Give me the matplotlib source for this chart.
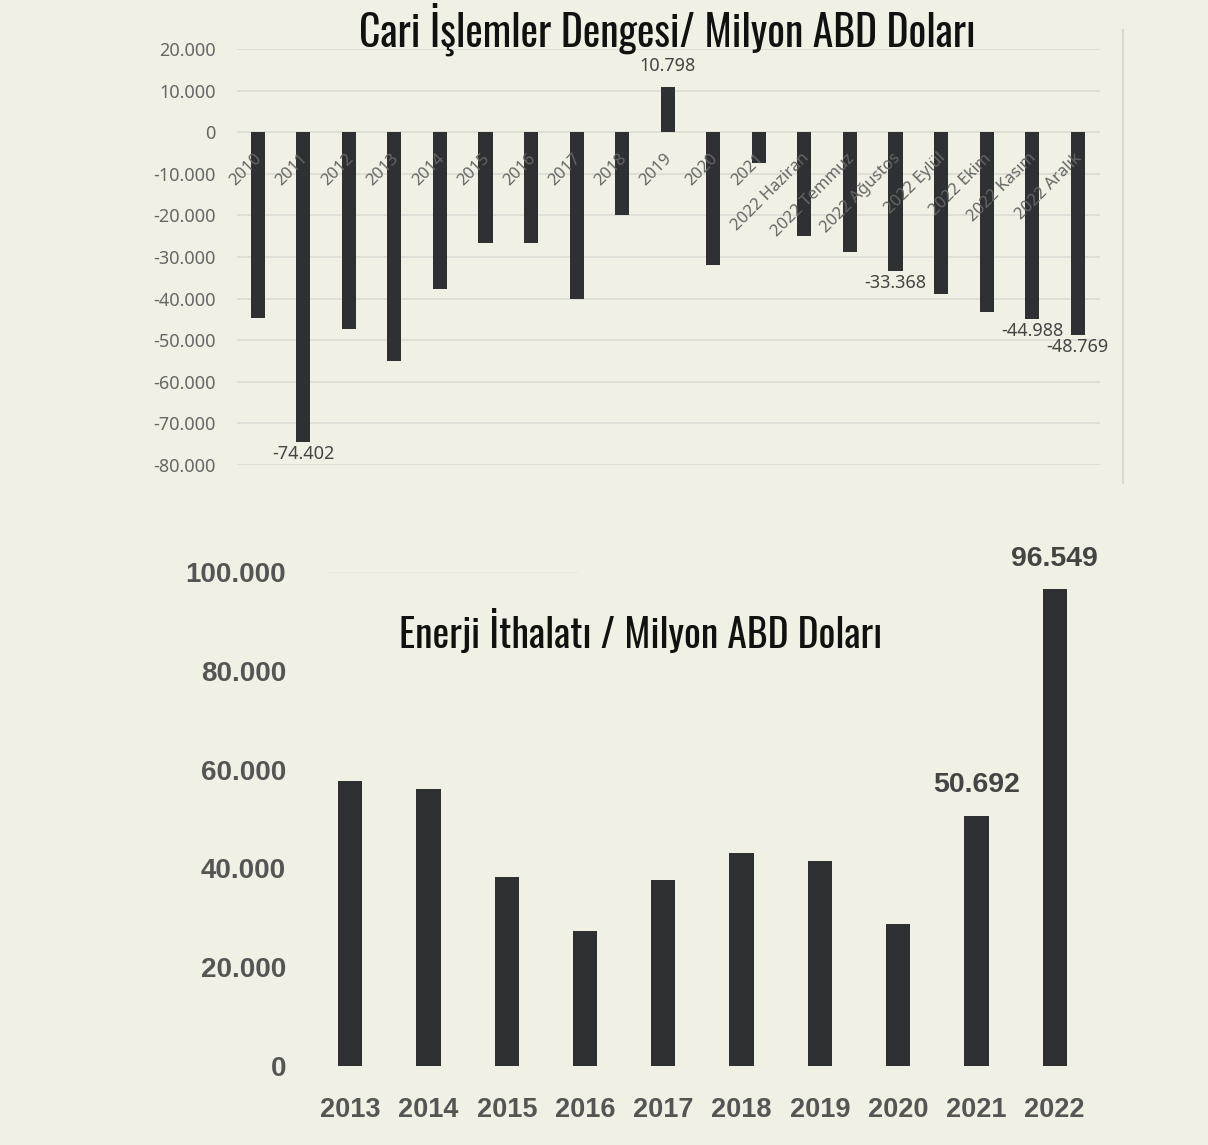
import matplotlib
matplotlib.use("Agg")
import matplotlib.pyplot as plt
from matplotlib.ticker import FuncFormatter

# ---- data ----
cari_labels = ["2010", "2011", "2012", "2013", "2014", "2015", "2016", "2017", "2018", "2019",
               "2020", "2021", "2022 Haziran", "2022 Temmuz", "2022 Ağustos", "2022 Eylül",
               "2022 Ekim", "2022 Kasım", "2022 Aralık"]
cari_values = [-44600, -74402, -47200, -55000, -37800, -26500, -26500, -40000, -20000, 10798,
               -31900, -7300, -25000, -28700, -33368, -38900, -43300, -44988, -48769]
cari_annotated = ["2011", "2019", "2022 Ağustos", "2022 Kasım", "2022 Aralık"]

enerji_years = ["2013", "2014", "2015", "2016", "2017", "2018", "2019", "2020", "2021", "2022"]
enerji_values = [57600, 56000, 38200, 27300, 37600, 43200, 41600, 28700, 50692, 96549]
enerji_annotated = ["2021", "2022"]

cari_yticks = [20000, 10000, 0, -10000, -20000, -30000, -40000, -50000, -60000, -70000, -80000]
enerji_yticks = [0, 20000, 40000, 60000, 80000, 100000]

BG = "#F0F0E4"
BAR = "#2E3033"
TITLE_FONT = ["Oswald", "Barlow Condensed", "DejaVu Sans"]
SMALL_FONT = ["Noto Sans", "DejaVu Sans"]
BOLD_FONT = ["Liberation Sans", "DejaVu Sans"]

def tr_fmt(v, pos=None):
    s = f"{abs(int(round(v))):,}".replace(",", ".")
    return ("-" if v < 0 else "") + s

fig = plt.figure(figsize=(12.08, 11.45), dpi=100, facecolor=BG)

# ---------------- top chart ----------------
ax1 = fig.add_axes([0.196, 0.594, 0.715, 0.363])
ax1.set_facecolor(BG)
x1 = list(range(len(cari_labels)))
ax1.bar(x1, cari_values, width=0.31, color=BAR, zorder=3)
ax1.set_ylim(-80000, 20000)
ax1.set_xlim(-0.46, len(cari_labels) - 0.5)
ax1.set_yticks(cari_yticks)
ax1.yaxis.set_major_formatter(FuncFormatter(tr_fmt))
ax1.tick_params(axis="y", length=0, labelsize=13, labelcolor="#666666", pad=15)
for t in ax1.get_yticklabels():
    t.set_family(SMALL_FONT)
ax1.set_xticks([])
ax1.grid(axis="y", color="#DCDCD6", linewidth=1.2, zorder=0)
for s in ax1.spines.values():
    s.set_visible(False)
for xi, lab in zip(x1, cari_labels):
    ax1.text(xi + 0.17, -4300, lab, rotation=45, ha="right", va="top",
             fontsize=12, color="#666666", family=SMALL_FONT, zorder=4)
for xi, lab, v in zip(x1, cari_labels, cari_values):
    if lab in cari_annotated:
        if v >= 0:
            ax1.text(xi, v + 3000, tr_fmt(v), ha="center", va="bottom", family=SMALL_FONT,
                     fontsize=13, color="#444444", clip_on=False)
        else:
            ax1.text(xi, v - 700, tr_fmt(v), ha="center", va="top", family=SMALL_FONT,
                     fontsize=13, color="#444444", clip_on=False)
fig.text(0.552, 0.974, "Cari İşlemler Dengesi/ Milyon ABD Doları", ha="center", va="center",
         fontsize=30, family=TITLE_FONT, color="#111111")
# right border line
fig.add_artist(plt.Line2D([0.930, 0.930], [0.578, 0.974], transform=fig.transFigure,
                          color="#D8D8D2", linewidth=1.5))

# ---------------- bottom chart ----------------
ax2 = fig.add_axes([0.2575, 0.069, 0.648, 0.4314])
ax2.set_facecolor(BG)
x2 = list(range(len(enerji_years)))
ax2.bar(x2, enerji_values, width=0.31, color=BAR, zorder=3)
ax2.set_ylim(0, 100000)
ax2.set_xlim(-0.5, len(enerji_years) - 0.5)
ax2.set_yticks(enerji_yticks)
ax2.yaxis.set_major_formatter(FuncFormatter(tr_fmt))
ax2.tick_params(axis="y", length=0, labelsize=20, labelcolor="#555555", pad=18)
ax2.set_xticks(x2)
ax2.set_xticklabels(enerji_years)
ax2.tick_params(axis="x", length=0, labelsize=19.5, labelcolor="#555555", pad=22)
for t in ax2.get_xticklabels() + ax2.get_yticklabels():
    t.set_fontweight("bold")
    t.set_family(BOLD_FONT)
for s in ax2.spines.values():
    s.set_visible(False)
ax2.axhline(0, color="#E6E6DC", linewidth=1, zorder=1)
ax2.axhline(100000, xmin=0.02, xmax=0.34, color="#E9E9DF", linewidth=1, zorder=1)
for xi, lab, v in zip(x2, enerji_years, enerji_values):
    if lab in enerji_annotated:
        ax2.text(xi, v + 3500, tr_fmt(v), ha="center", va="bottom", fontsize=20.5,
                 fontweight="bold", color="#444444", family=BOLD_FONT, clip_on=False)
fig.text(0.53, 0.448, "Enerji İthalatı / Milyon ABD Doları", ha="center", va="center",
         fontsize=28.5, family=TITLE_FONT, color="#111111")

fig.savefig("out.png", dpi=100, facecolor=BG)
